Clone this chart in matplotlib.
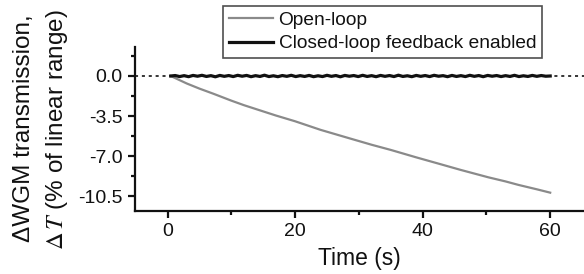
import matplotlib
matplotlib.use("Agg")
import matplotlib.pyplot as plt
from matplotlib.ticker import MultipleLocator

plt.rcParams['font.family'] = ['Liberation Sans', 'DejaVu Sans']
plt.rcParams['mathtext.fontset'] = 'stix'
plt.rcParams['axes.unicode_minus'] = False

# Open-loop data
t_open = [0.5, 3, 5, 7.2, 10, 12, 14.5, 17, 20, 24, 28.6, 32, 35, 39, 42.7, 46, 50.3, 53, 55, 58, 60]
y_open = [0.0, -0.65, -1.1, -1.55, -2.15, -2.55, -3.0, -3.45, -3.95, -4.7, -5.45, -6.0, -6.45,
          -7.1, -7.68, -8.2, -8.84, -9.2, -9.5, -9.9, -10.18]

# Closed-loop data (small fluctuations around zero)
t_closed = [0.5, 1.2, 1.9, 2.6, 3.3, 4.0, 4.7, 5.4, 6.1, 6.8, 7.5, 8.2, 8.9, 9.6, 10.3, 11.0,
            11.7, 12.4, 13.1, 13.8, 14.5, 15.2, 15.9, 16.6, 17.3, 18.0, 18.7, 19.4, 20.1, 20.8,
            21.5, 22.2, 22.9, 23.6, 24.3, 25.0, 25.7, 26.4, 27.1, 27.8, 28.5, 29.2, 29.9, 30.6,
            31.3, 32.0, 32.7, 33.4, 34.1, 34.8, 35.5, 36.2, 36.9, 37.6, 38.3, 39.0, 39.7, 40.4,
            41.1, 41.8, 42.5, 43.2, 43.9, 44.6, 45.3, 46.0, 46.7, 47.4, 48.1, 48.8, 49.5, 50.2,
            50.9, 51.6, 52.3, 53.0, 53.7, 54.4, 55.1, 55.8, 56.5, 57.2, 57.9, 58.6, 59.3, 60.0]
y_closed = [0.0, 0.04, -0.05, 0.03, -0.06, 0.05, -0.02, 0.06, -0.04, 0.03, -0.07, 0.05, -0.03,
            0.04, -0.05, 0.06, -0.02, 0.05, -0.06, 0.03, -0.04, 0.07, -0.05, 0.02, -0.06, 0.04,
            -0.03, 0.06, -0.05, 0.03, -0.04, 0.05, -0.06, 0.02, -0.05, 0.06, -0.03, 0.04, -0.07,
            0.05, -0.02, 0.04, -0.05, 0.06, -0.04, 0.03, -0.06, 0.05, -0.03, 0.04, -0.05, 0.07,
            -0.04, 0.02, -0.06, 0.05, -0.03, 0.04, -0.05, 0.06, -0.02, 0.03, -0.06, 0.05, -0.04,
            0.03, -0.05, 0.06, -0.03, 0.04, -0.06, 0.05, -0.02, 0.04, -0.05, 0.03, -0.04, 0.06,
            -0.05, 0.02, -0.04, 0.05, -0.03, 0.04, -0.02, 0.0]

x_major = [0, 20, 40, 60]
y_major = [0.0, -3.5, -7.0, -10.5]
y_ticklabels = ["0.0", "-3.5", "-7.0", "-10.5"]

W, H = 584, 274
fig = plt.figure(figsize=(W / 100, H / 100), dpi=100)
ax = fig.add_axes([135 / W, 1 - 211 / H, 1 - 135 / W, (211 - 47) / H])

ax.axhline(0, color='black', lw=1.1, ls=(0, (2, 2.5)), zorder=1)
l1, = ax.plot(t_open, y_open, color='#8a8a8a', lw=1.6, label='Open-loop', zorder=2)
l2, = ax.plot(t_closed, y_closed, color='#111111', lw=2.3, label='Closed-loop feedback enabled', zorder=3)

ax.set_xlim(-5.1, 65.3)
ax.set_ylim(-11.78, 2.53)
ax.set_xticks(x_major)
ax.set_yticks(y_major)
ax.set_yticklabels(y_ticklabels)
ax.xaxis.set_minor_locator(MultipleLocator(10))
ax.yaxis.set_minor_locator(MultipleLocator(1.75))

for s in ['top', 'right']:
    ax.spines[s].set_visible(False)
for s in ['left', 'bottom']:
    ax.spines[s].set_linewidth(1.6)
    ax.spines[s].set_color('#111111')

ax.tick_params(axis='both', which='major', direction='out', length=5, width=1.6,
               labelsize=14, colors='#111111', pad=4)
ax.tick_params(axis='both', which='minor', direction='out', length=3, width=1.6, colors='#111111')

ax.set_xlabel('Time (s)', fontsize=16.5, labelpad=5, color='#111111')
fig.text(24 / W, 1 - 128 / H, 'ΔWGM transmission,', rotation=90, fontsize=17.5,
         ha='center', va='center', color='#111111')
fig.text(57 / W, 1 - 130 / H, r'$\Delta\,T$ (% of linear range)', rotation=90, fontsize=17.5,
         ha='center', va='center', color='#111111')

leg = fig.legend(handles=[l1, l2], loc='upper left',
                 bbox_to_anchor=(223 / W, 1 - 6 / H), bbox_transform=fig.transFigure,
                 fontsize=13.8, frameon=True, fancybox=False, handlelength=2.3,
                 handletextpad=0.3, borderpad=0.3, labelspacing=0.3, borderaxespad=0)
leg.get_frame().set_edgecolor('#222222')
leg.get_frame().set_linewidth(1.2)
for t in leg.get_texts():
    t.set_color('#111111')

fig.savefig('out.png', dpi=100)
